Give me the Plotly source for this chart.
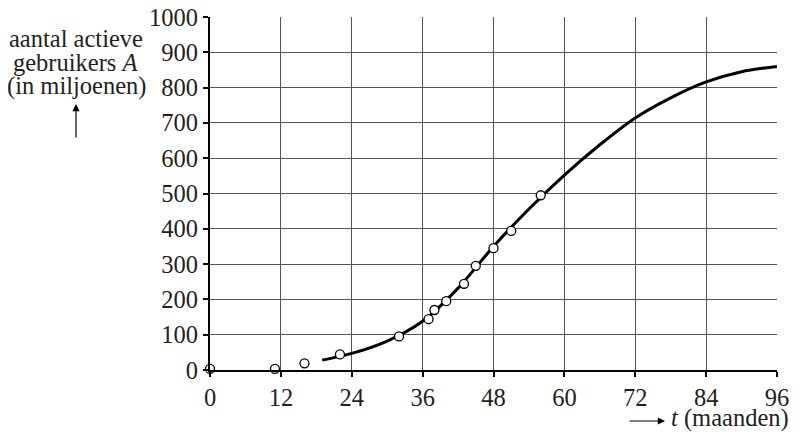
import plotly.graph_objects as go

# Measured data points (t in months, A in millions)
t_points = [0, 11, 16, 22, 32, 37, 38, 40, 43, 45, 48, 51, 56]
a_points = [3, 3, 19, 44, 95, 144, 170, 195, 244, 295, 345, 394, 495]

# Curve
t_curve = [19, 24, 30, 36, 42, 48, 54, 60, 66, 72, 78, 84, 90, 96]
a_curve = [28, 47, 82, 138, 232, 350, 456, 552, 638, 714, 771, 816, 845, 860]

x_ticks = [0, 12, 24, 36, 48, 60, 72, 84, 96]
y_ticks = [0, 100, 200, 300, 400, 500, 600, 700, 800, 900, 1000]

FONT = "Liberation Serif, Times New Roman, DejaVu Serif, serif"
OFF = 8  # page body margin
W, H = 802 - OFF, 432 - OFF
L, R, T, B = 210 - OFF, 25, 17 - OFF, 62

fig = go.Figure()
fig.add_trace(go.Scatter(x=t_curve, y=a_curve, mode="lines",
                         line=dict(color="black", width=3, shape="spline", smoothing=0.8),
                         hoverinfo="skip", showlegend=False))
fig.add_trace(go.Scatter(x=t_points, y=a_points, mode="markers",
                         marker=dict(symbol="circle", size=9, color="white",
                                     line=dict(color="black", width=1.3)),
                         cliponaxis=False, showlegend=False))

tf = dict(family=FONT, size=24.5, color="#231f20")
fig.update_layout(
    width=W, height=H,
    margin=dict(l=L, r=R, t=T, b=B),
    paper_bgcolor="white", plot_bgcolor="white",
    font=tf,
    xaxis=dict(range=[0, 96], tickvals=x_ticks, ticktext=[str(v) for v in x_ticks],
               showgrid=True, gridcolor="#555", gridwidth=1,
               showline=True, linecolor="black", linewidth=2,
               ticks="outside", ticklen=5, tickcolor="black", tickwidth=2,
               zeroline=False, tickfont=tf, automargin=False, ticklabeloverflow="allow"),
    yaxis=dict(range=[0, 1000], tickvals=y_ticks, ticktext=[str(v) for v in y_ticks],
               showgrid=True, gridcolor="#555", gridwidth=1,
               showline=True, linecolor="black", linewidth=2,
               ticks="outside", ticklen=5, tickcolor="black", tickwidth=2,
               zeroline=False, tickfont=tf, automargin=False, ticklabeloverflow="allow"),
)

def pap_x(p):
    return (p - OFF - L) / (W - L - R)

def pap_y(p):
    return (H - B - (p - OFF)) / (H - T - B)

# y-axis title (three lines)
for txt, yc in [("aantal actieve", 38), ("gebruikers <i>A</i>", 62), ("(in miljoenen)", 86)]:
    fig.add_annotation(xref="paper", yref="paper", x=pap_x(76), y=pap_y(yc),
                       text=txt, showarrow=False, xanchor="center", yanchor="middle",
                       font=tf)
# up arrow
fig.add_annotation(xref="paper", yref="paper", x=pap_x(76), y=pap_y(104),
                   ax=0, ay=35, axref="pixel", ayref="pixel",
                   text="", showarrow=True, arrowhead=2, arrowsize=1.2, arrowwidth=1.2,
                   arrowcolor="black")
# x-axis title
fig.add_annotation(xref="paper", yref="paper", x=pap_x(791), y=pap_y(418),
                   text="<i>t</i> (maanden)", showarrow=False, xanchor="right", yanchor="middle",
                   font=tf)
fig.add_annotation(xref="paper", yref="paper", x=pap_x(665), y=pap_y(421),
                   ax=-37, ay=0, axref="pixel", ayref="pixel",
                   text="", showarrow=True, arrowhead=2, arrowsize=1.2, arrowwidth=1.2,
                   arrowcolor="black")

fig.write_html("out.html")
